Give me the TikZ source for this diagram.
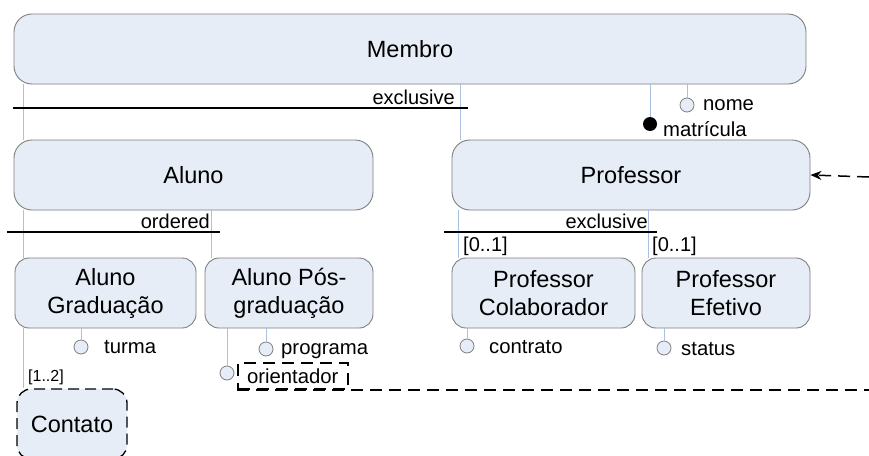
\documentclass[tikz,border=0pt]{standalone}
\usepackage{fontspec}
\setmainfont{Liberation Sans}
\usetikzlibrary{arrows.meta,calc}

\definecolor{boxfill}{HTML}{E6EDF7}
\definecolor{boxline}{HTML}{7F7F7F}
\definecolor{linkblue}{HTML}{A9C0E0}

\tikzset{
  entity/.style={draw=boxline, fill=boxfill, line width=0.9pt, rounded corners=18pt,
    align=center, font=\fontsize{23.5}{28}\selectfont, inner sep=0pt},
  weakentity/.style={entity, draw=black, line width=1.3pt, dash pattern=on 11pt off 6pt},
  link/.style={draw=linkblue, line width=0.9pt},
  attr/.style={circle, draw=boxline, fill=boxfill, line width=0.8pt, minimum size=14pt, inner sep=0pt},
  keyattr/.style={circle, fill=black, minimum size=14pt, inner sep=0pt},
  lbl/.style={font=\fontsize{20.3}{22}\selectfont, inner sep=0pt},
  smalllbl/.style={font=\fontsize{20}{22}\selectfont, inner sep=0pt},
  tinylbl/.style={font=\fontsize{16}{18}\selectfont, inner sep=0pt},
  constraint/.style={draw=black, line width=1.3pt},
  dashlink/.style={draw=black, line width=1.5pt, dash pattern=on 12pt off 7pt}
}

\begin{document}
\begin{tikzpicture}[x=1pt,y=-1pt]
\useasboundingbox[fill=white] (0,0) rectangle (869,455);

% entity boxes
\node[entity, minimum width=792pt, minimum height=70pt] (membro) at (410,49) {Membro};
\node[entity, minimum width=359pt, minimum height=70pt] (aluno) at (193.5,175) {Aluno};
\node[entity, minimum width=358pt, minimum height=70pt] (prof) at (631,175) {Professor};
\node[entity, rounded corners=14pt, minimum width=181pt, minimum height=70pt] (agrad) at (105.5,293) {Aluno\\Graduação};
\node[entity, rounded corners=14pt, minimum width=168pt, minimum height=70pt] (apos) at (289,293) {Aluno Pós-\\graduação};
\node[entity, rounded corners=14pt, minimum width=183pt, minimum height=70pt] (pcolab) at (543.5,293) {Professor\\Colaborador};
\node[entity, rounded corners=14pt, minimum width=168pt, minimum height=70pt] (pefet) at (726,293) {Professor\\Efetivo};
\node[weakentity, rounded corners=14pt, minimum width=110pt, minimum height=70pt] (contato) at (72,424) {Contato};

% hierarchy links between the boxes
\path[link] ([xshift=10pt]membro.south west) -- ([xshift=10pt]membro.south west |- aluno.north);
\path[link] ([xshift=10pt]membro.south west |- aluno.south) -- ([xshift=10pt]membro.south west |- agrad.north);
\path[link] ([xshift=10pt]membro.south west |- agrad.south) -- ([xshift=10pt]membro.south west |- contato.north);
\path[link] ([xshift=9pt]prof.north west) -- ([xshift=9pt]prof.north west |- membro.south);
\path[link] ([xshift=7pt]apos.north west) -- ([xshift=7pt]apos.north west |- aluno.south);
\path[link] ([xshift=7pt]pcolab.north west) -- ([xshift=7pt]pcolab.north west |- prof.south);
\path[link] ([xshift=7pt]pefet.north west) -- ([xshift=7pt]pefet.north west |- prof.south);

% specialisation constraints
\coordinate (ex1a) at (13,108);
\coordinate (ex1b) at (468,108);
\draw[constraint] (ex1a) -- (ex1b);
\node[smalllbl, anchor=south east] (ex1) at (455,105) {exclusive};

\coordinate (orda) at (7,232);
\coordinate (ordb) at (220,232);
\draw[constraint] (orda) -- (ordb);
\node[smalllbl, anchor=south east] (ord) at (210,229) {ordered};

\coordinate (ex2a) at (444,232);
\coordinate (ex2b) at (657,232);
\draw[constraint] (ex2a) -- (ex2b);
\node[smalllbl, anchor=south east] (ex2) at (648,229) {exclusive};

% cardinalities
\node[smalllbl, anchor=south west] (c1) at (463,256) {[0..1]};
\node[smalllbl, anchor=south west] (c2) at (652,256) {[0..1]};
\node[tinylbl, anchor=south west] (c3) at (28,385) {[1..2]};

% attributes of Membro
\node[keyattr] (matr) at (650,124) {};
\path[link] (matr) -- (matr |- membro.south);
\node[lbl, anchor=west] (matrl) at (663,129) {matrícula};
\node[attr] (nome) at (687,105) {};
\path[link] (nome) -- (nome |- membro.south);
\node[lbl, anchor=west] (nomel) at (703,105) {nome};

% attributes of the subclasses
\node[attr] (turma) at (81,347) {};
\path[link] (turma) -- (turma |- agrad.south);
\node[lbl, anchor=west] (turmal) at (104,347) {turma};

\node[attr] (prog) at (266,349) {};
\path[link] (prog) -- (prog |- apos.south);
\node[lbl, anchor=west] (progl) at (281,351) {programa};

\node[attr] (orient) at (227,373) {};
\path[link] (orient) -- (orient |- apos.south);
\node[lbl, anchor=west, minimum width=110pt, minimum height=26pt, inner xsep=9pt, draw=black,
      line width=1.5pt, dash pattern=on 12pt off 7pt] (orientl) at (237,376) {orientador};

\node[attr] (contr) at (467,346) {};
\path[link] (contr) -- (contr |- pcolab.south);
\node[lbl, anchor=west] (contrl) at (489,347) {contrato};

\node[attr] (stat) at (664,348) {};
\path[link] (stat) -- (stat |- pefet.south);
\node[lbl, anchor=west] (statl) at (681,349) {status};

% reference from orientador back to Professor
\coordinate (edgeA) at (869,389);
\draw[dashlink] (orientl.south west) -- (orientl.south west -| edgeA);
\coordinate (edgeB) at (869,177);
\draw[dashlink, -{Stealth[length=11pt,width=9pt]}] (edgeB) -- (prof.east);

\end{tikzpicture}
\end{document}
